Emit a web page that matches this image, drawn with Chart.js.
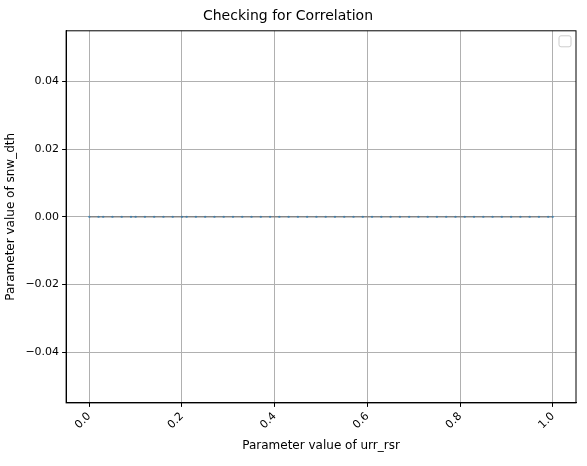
<!DOCTYPE html>
<html>
<head>
<meta charset="utf-8">
<script src="https://cdn.jsdelivr.net/npm/chart.js@4"></script>
<style>
  html, body { margin: 0; padding: 0; background: #fff; }
  #wrap { width: 587px; height: 466px; }
</style>
</head>
<body>
<div id="wrap"><canvas id="chart"></canvas></div>
<script>
    // sampled urr_rsr values (all snw_dth values are zero)
    var xValues = [0.00, 0.02, 0.03, 0.05, 0.07, 0.09, 0.10, 0.12, 0.14, 0.16, 0.18, 0.20,
        0.21, 0.23, 0.25, 0.27, 0.29, 0.31, 0.33, 0.35, 0.37, 0.39, 0.41, 0.43, 0.45,
        0.47, 0.49, 0.51, 0.53, 0.55, 0.57, 0.59, 0.61, 0.63, 0.65, 0.67, 0.69, 0.71,
        0.73, 0.75, 0.77, 0.79, 0.81, 0.83, 0.85, 0.87, 0.89, 0.91, 0.93, 0.95, 0.97, 0.99, 1.00];
    var yValues = xValues.map(function() { return 0; });

    var points = xValues.map(function(x, i) { return { x: x, y: yValues[i] }; });
    var FONT = 'DejaVu Sans';

    // empty legend frame and full axes box, as in the reference
    var framePlugin = {
        id: 'framePlugin',
        afterDraw: function(chart) {
            var a = chart.chartArea, c = chart.ctx;
            c.save();
            c.strokeStyle = '#000';
            c.lineWidth = 1;
            c.strokeRect(a.left, a.top, a.right - a.left, a.bottom - a.top);
            c.strokeStyle = '#cccccc';
            c.beginPath();
            c.roundRect(a.right - 17, a.top + 5, 12, 11, 2);
            c.stroke();
            c.restore();
        }
    };

    new Chart(document.getElementById('chart'), {
        type: 'scatter',
        data: {
            datasets: [{
                data: points,
                showLine: true,
                borderColor: 'rgba(128,128,128,0.9)',
                borderWidth: 1.5,
                backgroundColor: 'rgba(31,119,180,0.6)',
                pointBorderWidth: 0,
                pointRadius: 1.2
            }]
        },
        options: {
            responsive: true,
            maintainAspectRatio: false,
            animation: false,
            layout: { padding: { left: 0, right: 11, top: 8, bottom: 9 } },
            plugins: {
                legend: { display: false },
                tooltip: { enabled: false },
                title: {
                    display: true,
                    text: 'Checking for Correlation',
                    color: '#000',
                    font: { family: FONT, size: 14, weight: 'normal' },
                    padding: { top: 0, bottom: 6 }
                }
            },
            scales: {
                x: {
                    min: -0.05, max: 1.05,
                    afterBuildTicks: function(s) {
                        s.ticks = [0, 0.2, 0.4, 0.6, 0.8, 1.0].map(function(v) { return { value: v }; });
                    },
                    ticks: {
                        color: '#000', font: { family: FONT, size: 11 },
                        maxRotation: 45, minRotation: 45,
                        callback: function(v) { return v.toFixed(1); }
                    },
                    grid: { color: '#b0b0b0', tickColor: '#000', tickLength: 4 },
                    border: { color: '#000' },
                    title: { display: true, text: 'Parameter value of urr_rsr', color: '#000', font: { family: FONT, size: 12 } }
                },
                y: {
                    min: -0.055, max: 0.055,
                    afterBuildTicks: function(s) {
                        s.ticks = [-0.04, -0.02, 0, 0.02, 0.04].map(function(v) { return { value: v }; });
                    },
                    ticks: {
                        color: '#000', font: { family: FONT, size: 11 },
                        callback: function(v) { return (v < 0 ? '\u2212' : '') + Math.abs(v).toFixed(2); }
                    },
                    grid: { color: '#b0b0b0', tickColor: '#000', tickLength: 4 },
                    border: { color: '#000' },
                    title: { display: true, text: 'Parameter value of snw_dth', color: '#000', font: { family: FONT, size: 12 } }
                }
            }
        },
        plugins: [framePlugin]
    });
</script>
</body>
</html>
